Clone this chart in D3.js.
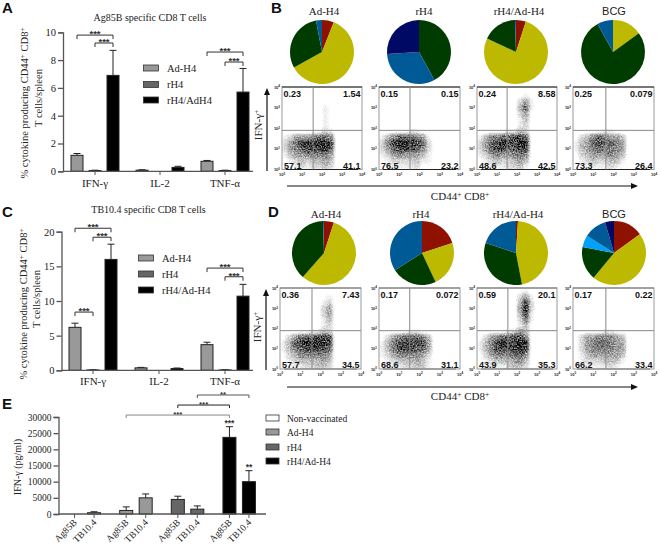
<!DOCTYPE html>
<html><head><meta charset="utf-8">
<script src="https://cdn.jsdelivr.net/npm/d3@7/dist/d3.min.js"></script>
<style>html,body{margin:0;padding:0;background:#fff}svg{display:block}</style>
</head><body>
<svg id="c" width="661" height="545"></svg>
<script>
const SERIF="'Liberation Serif',serif", SANS="'Liberation Sans',sans-serif";
// Panel A
const groupsAC=["IFN-γ","IL-2","TNF-α"];
const seriesA=["Ad-H4","rH4","rH4/AdH4"];
const seriesC=["Ad-H4","rH4","rH4/Ad-H4"];
const valuesA=[[1.15,0.05,6.9],[0.08,0,0.28],[0.72,0.05,5.7]];
const errTopA=[[1.28,0.08,8.7],[0.11,0,0.36],[0.78,0.08,7.4]];
const bracketsA=[[0,0,0,2,9.8],[0,1,0,2,9.23],[2,0,2,2,8.58],[2,1,2,2,7.86]];
// Panel C
const valuesC=[[6.2,0.05,16],[0.35,0,0.25],[3.7,0.05,10.7]];
const errTopC=[[6.8,0.08,18.2],[0.42,0,0.33],[4.05,0.08,12.4]];
const bracketsC=[[0,0,0,2,20.5],[0,1,0,2,19.2],[0,0,0,1,8.4],[2,0,2,2,14.75],[2,1,2,2,13.5]];
// Panel E
const groupsE=["Non-vaccinated","Ad-H4","rH4","rH4/Ad-H4"];
const antigens=["Ag85B","TB10.4"];
const valuesE=[[0,400],[1100,5000],[4500,1500],[23700,10000]];
const errTopE=[[0,700],[2200,6200],[5500,2500],[27000,13400]];
const fillE=["#fff","#999","#666","#000"];
const bracketsE=[[1,0,3,0,30600,"#888"],[2,0,3,0,33700,"#222"],[2,1,3,1,36800,"#555"]];
// Pies
const pieNames=["Ad-H4","rH4","rH4/Ad-H4","BCG"];
const pieCat=["red","yellow","green","blue","navy","sky"];
const pieCol={red:"#8f1200",yellow:"#bdb800",green:"#003c00",blue:"#005a96",navy:"#000a64",sky:"#00a0ff"};
const piesB=[
 [["red",6],["yellow",61],["green",30],["blue",3]],
 [["green",42],["blue",32],["navy",26]],
 [["red",5],["yellow",77],["green",17.5],["blue",0.5]],
 [["yellow",15],["green",77],["blue",8]]];
const piesD=[
 [["red",5],["yellow",56.5],["green",38],["blue",0.5]],
 [["red",20],["yellow",23],["green",23],["blue",34]],
 [["red",1],["yellow",46],["green",33],["blue",20]],
 [["red",15],["yellow",46],["green",17],["sky",6],["blue",11.5],["navy",4.5]]];
// Flow plots: quadrant percentages (UL, UR, LL, LR), gates, and event density (14x14, top row first)
const quadB=[["0.23","1.54","57.1","41.1"],["0.15","0.15","76.5","23.2"],["0.24","8.58","48.6","42.5"],["0.25","0.079","73.3","26.4"]];
const quadD=[["0.36","7.43","57.7","34.5"],["0.17","0.072","68.6","31.1"],["0.59","20.1","43.9","35.3"],["0.17","0.22","66.2","33.4"]];
const gateB=[[36,79],[34,79],[32,79],[42,79]];
const gateD=[[38,78],[33,78],[35,78],[42,78]];
const Z="00000000000000";
const densB=[
[Z,Z,"00000001000000","00000002100000","00000002100000","00000002100000","00000002100000","00000113200000","23555677610000","35789999810000","35678889710000","24556666510000","12343445410000","01232334310000"],
[Z,Z,Z,"00000000100000",Z,Z,Z,"00111221000000","24677765200000","36899987310000","35788876310000","23565554210000","12333342210000","01222231100000"],
[Z,"00000001210000","00000003520000","00000004720000","00000003510000","00000002410000","00000002310000","00111224310000","24667788710000","35789889910000","35788778810000","23565566610000","12343345410000","01222334210000"],
[Z,Z,Z,Z,Z,Z,Z,"00111221000000","13467655410000","24578776510000","24567666510000","13455565410000","12343344210000","01222232100000"]];
const densD=[
[Z,"00000001210000","00000002310000","00000003510000","00000003510000","00000002410000","00000002310000","00011224310000","13577788810000","24789999810000","24678888710000","13466666510000","12344445410000","01223344310000"],
[Z,Z,Z,Z,"00000000100000",Z,Z,"00111221000000","13567776410000","24688888510000","24688877510000","23566665310000","12344454210000","01223344210000"],
["00000001200000","00000003520000","00000004830000","00000005930000","00000004820000","00000003620000","00000002410000","00111235410000","13567788610000","24689889910000","24688889810000","13566677610000","12344456410000","01222344310000"],
[Z,Z,"00000000100000",Z,Z,Z,Z,"00111221100000","13556665410000","13567765510000","13566665510000","12455555410000","12333444210000","01222232100000"]];

const svg=d3.select("#c");
const defs=svg.append("defs");
const flt=defs.append("filter").attr("id","grain").attr("x","0").attr("y","0").attr("width","1").attr("height","1").attr("color-interpolation-filters","sRGB");
flt.append("feGaussianBlur").attr("in","SourceGraphic").attr("stdDeviation",1.6).attr("result","d");
flt.append("feTurbulence").attr("type","fractalNoise").attr("baseFrequency",0.75).attr("numOctaves",2).attr("seed",7).attr("result","n");
flt.append("feColorMatrix").attr("in","n").attr("type","matrix").attr("values","0 0 0 0 0 0 0 0 0 0 0 0 0 0 0 1 0 0 0 0").attr("result","na");
flt.append("feComposite").attr("in","d").attr("in2","na").attr("operator","arithmetic").attr("k1",1.7).attr("k2",0.05).attr("k3",0).attr("k4",-0.06).attr("result","m");
flt.append("feGaussianBlur").attr("in","m").attr("stdDeviation",0.45);

function txt(x,y,s,o={}){
  const t=svg.append("text").attr("x",x).attr("y",y).text(s)
   .attr("font-family",o.f||SERIF).attr("font-size",o.s||10.5).attr("fill",o.c||"#222")
   .attr("text-anchor",o.a||"start").attr("font-weight",o.w||null);
  if(o.r!=null)t.attr("transform",`rotate(${o.r} ${x} ${y})`);
  return t;
}

function barPanel(cfg){
  const g=svg.append("g");
  const x0=d3.scaleBand().domain(d3.range(cfg.groups.length)).range(cfg.xr);
  const x1=d3.scaleBand().domain(d3.range(cfg.series.length)).range(cfg.sub);
  const y=d3.scaleLinear().domain(cfg.yd).range(cfg.yr);
  const cx=(a,b)=>x0(a)+x0.bandwidth()/2+x1(b)+x1.bandwidth()/2;
  const fills=cfg.fills;
  // bars
  cfg.values.forEach((row,i)=>row.forEach((v,j)=>{
    if(v<=0&&cfg.errTop[i][j]<=0)return;
    const c=cx(i,j),w=cfg.bw,top=cfg.errTop[i][j];
    g.append("line").attr("x1",c).attr("x2",c).attr("y1",y(v)).attr("y2",y(top)).attr("stroke","#222").attr("stroke-width",1);
    g.append("line").attr("x1",c-cfg.cap).attr("x2",c+cfg.cap).attr("y1",y(top)).attr("y2",y(top)).attr("stroke","#222").attr("stroke-width",1);
    g.append("rect").attr("x",c-w/2).attr("width",w).attr("y",y(v)).attr("height",Math.max(0,y(0)-y(v)))
      .attr("fill",fills[cfg.fillBy==="group"?i:j]).attr("stroke",v>0?"#222":"none").attr("stroke-width",1);
  }));
  // axes
  const ay=g.append("g").attr("transform",`translate(${cfg.xr[0]+cfg.ax0},0)`)
    .call(d3.axisLeft(y).tickValues(cfg.ticks).tickSize(5).tickPadding(2).tickFormat(d3.format("d")));
  const ax=g.append("g").attr("transform",`translate(0,${cfg.yr[0]})`);
  ax.append("line").attr("x1",cfg.xr[0]+cfg.ax0).attr("x2",cfg.axEnd).attr("stroke","#555").attr("stroke-width",1.3);
  ay.selectAll("path,line").attr("stroke","#555").attr("stroke-width",1.3);
  ay.selectAll("text").attr("font-family",SERIF).attr("font-size",cfg.tickSize||10.5).attr("fill","#222");
  // brackets
  cfg.brackets.forEach(b=>{
    const xa=cx(b[0],b[1]),xb=cx(b[2],b[3]),yy=y(b[4]),col=b[5]||"#333",h=cfg.bh;
    g.append("path").attr("d",`M${xa},${yy+h}V${yy}H${xb}V${yy+h}`).attr("fill","none").attr("stroke",col).attr("stroke-width",1);
  });
  return {x0,x1,y,cx,g};
}
// Panel A
const A=barPanel({groups:groupsAC,series:seriesA,values:valuesA,errTop:errTopA,fills:["#999","#666","#000"],xr:[62.5,257.5],sub:[-27,27],bw:12,cap:3.5,
 yd:[0,10],yr:[171.3,32.3],ticks:d3.range(0,11,2),ax0:0.5,axEnd:253,brackets:bracketsA,bh:4});
bracketsA.forEach(b=>txt((A.cx(b[0],b[1])+A.cx(b[2],b[3]))/2,A.y(b[4])+2,"***",{a:"middle",s:9.5,f:SANS,w:"bold",c:"#333"}));
// Panel C
const C=barPanel({groups:groupsAC,series:seriesC,values:valuesC,errTop:errTopC,fills:["#999","#666","#000"],xr:[60,258],sub:[-27,27],bw:12,cap:3.5,
 yd:[0,20],yr:[370.3,231.7],ticks:d3.range(0,21,5),ax0:1.5,axEnd:253,brackets:bracketsC,bh:4});
bracketsC.forEach(b=>txt((C.cx(b[0],b[1])+C.cx(b[2],b[3]))/2,C.y(b[4])+2,"***",{a:"middle",s:9.5,f:SANS,w:"bold",c:"#333"}));
// Panel E
const E=barPanel({groups:groupsE,series:antigens,values:valuesE,errTop:errTopE,fills:fillE,fillBy:"group",xr:[58.5,265],sub:[-19.5,19.5],bw:13,cap:3.5,
 yd:[0,30000],yr:[514,417],ticks:d3.range(0,30001,5000),ax0:0,axEnd:266,brackets:bracketsE,bh:3,tickSize:9.5});
// x tick labels
groupsAC.forEach((d,i)=>{
  txt(A.x0(i)+A.x0.bandwidth()/2,187,d,{a:"middle",s:11});
  txt(C.x0(i)+C.x0.bandwidth()/2,385,d,{a:"middle",s:11});
  C.g.append("line").attr("x1",C.x0(i)+C.x0.bandwidth()/2).attr("x2",C.x0(i)+C.x0.bandwidth()/2).attr("y1",370.3).attr("y2",374).attr("stroke","#555");
  A.g.append("line").attr("x1",A.x0(i)+A.x0.bandwidth()/2).attr("x2",A.x0(i)+A.x0.bandwidth()/2).attr("y1",171.3).attr("y2",175).attr("stroke","#555");
});
groupsE.forEach((g,i)=>antigens.forEach((a,j)=>{
  const c=E.cx(i,j);
  E.g.append("line").attr("x1",c).attr("x2",c).attr("y1",514).attr("y2",518).attr("stroke","#555");
  txt(c+3,523,a,{a:"end",s:9.5,r:-45});
}));
bracketsE.forEach(b=>txt((E.cx(b[0],b[1])+E.cx(b[2],b[3]))/2,E.y(b[4])+2,b[4]>36000?"**":"***",{a:"middle",s:8,f:SANS,w:"bold",c:"#333"}));
txt(E.cx(3,0),E.y(27000)-1,"***",{a:"middle",s:8.5,f:SANS,w:"bold",c:"#333"});
txt(E.cx(3,1),E.y(13400)-1,"**",{a:"middle",s:8.5,f:SANS,w:"bold",c:"#333"});
// Legends
function legend(items,fills,sx,tx,ys,sw,fs){
  items.forEach((d,i)=>{
    svg.append("rect").attr("x",sx).attr("y",ys[i]-3).attr("width",sw).attr("height",6).attr("fill",fills[i]).attr("stroke","#333").attr("stroke-width",0.8);
    txt(tx,ys[i]+3.5,d,{s:fs});
  });
}
legend(seriesA,["#999","#666","#000"],143.5,167,[68,84.5,100],15,10.5);
legend(seriesC,["#999","#666","#000"],138.5,162,[258,274,290],15,10.5);
legend(groupsE,fillE,266,287,[418,432,447,461],13,9.5);
// Titles
txt(150,21,"Ag85B specific CD8 T cells",{a:"middle",s:10});
txt(148.5,213,"TB10.4 specific CD8 T cells",{a:"middle",s:10});
// Y labels
function ylab(x,y,s){const t=txt(x,y,"% cytokine producing CD44",{a:"middle",s,r:-90});
  t.append("tspan").attr("dy",-3).attr("font-size",s*0.7).text("+");
  t.append("tspan").attr("dy",3).text(" CD8");
  t.append("tspan").attr("dy",-3).attr("font-size",s*0.7).text("+");}
ylab(28,103,10.5); txt(42,98,"T cells/spleen",{a:"middle",s:10.5,r:-90});
ylab(27,304,10.5); txt(40,299,"T cells/spleen",{a:"middle",s:10.5,r:-90});
txt(21,467,"IFN-γ (pg/ml)",{a:"middle",s:10,r:-90});
// Panel letters
[["A",2,13],["B",271,13],["C",2,217],["D",268,217],["E",2,409]].forEach(d=>txt(d[1],d[2],d[0],{f:SANS,w:"bold",s:15,c:"#111"}));
// Pies
const pieGen=d3.pie().sort(null).value(d=>d[1]);
const arc=d3.arc().innerRadius(0).outerRadius(32);
function pies(data,cxs,cy,tx,ty){
  data.forEach((p,i)=>{
    const g=svg.append("g").attr("transform",`translate(${cxs[i]},${cy})`);
    g.selectAll("path").data(pieGen(p)).join("path").attr("d",arc).attr("fill",d=>pieCol[d.data[0]]);
    const n=pieNames[i];
    txt(tx[i],ty,n,{a:"middle",s:11,f:n==="BCG"?SANS:SERIF});
  });
}
pies(piesB,[322,419,516,613],52,[324,424,519,614],15);
pies(piesD,[324,422,516,614],253,[326,421,518,614],218);
// Flow plots
function flow(dens,quad,gate,xs,y0,y1,topCol){
  dens.forEach((rows,k)=>{
    const [xa,xb]=xs[k];
    const g=svg.append("g");
    const x=d3.scaleLog().domain([1,1e4]).range([xa,xb]);
    const y=d3.scaleLog().domain([1,1e4]).range([y1,y0]);
    const cx=d3.scaleBand().domain(d3.range(14)).range([xa,xb]);
    const cy=d3.scaleBand().domain(d3.range(14)).range([y0,y1]);
    const op=d3.scalePow().exponent(1.35).domain([0,9]).range([0,1]);
    const dg=g.append("g").attr("filter","url(#grain)");
    dg.append("rect").attr("x",xa).attr("y",y0).attr("width",xb-xa).attr("height",y1-y0).attr("fill","#000").attr("fill-opacity",0);
    rows.forEach((r,ri)=>[...r].forEach((v,ci)=>{
      if(+v>0)dg.append("rect").attr("x",cx(ci)).attr("y",cy(ri)).attr("width",cx.bandwidth()+0.3).attr("height",cy.bandwidth()+0.3).attr("fill","#000").attr("fill-opacity",op(+v));
    }));
    // frame
    g.append("rect").attr("x",xa).attr("y",y0).attr("width",xb-xa).attr("height",y1-y0).attr("fill","none").attr("stroke","#999").attr("stroke-width",1);
    g.append("line").attr("x1",xa).attr("x2",xb).attr("y1",y0).attr("y2",y0).attr("stroke",topCol).attr("stroke-width",1.2);
    g.append("line").attr("x1",xa+4).attr("x2",xb-4).attr("y1",y1).attr("y2",y1).attr("stroke",topCol).attr("stroke-width",1.2);
    // gates
    g.append("line").attr("x1",x(gate[k][0])).attr("x2",x(gate[k][0])).attr("y1",y0).attr("y2",y1).attr("stroke","#888").attr("stroke-width",1);
    g.append("line").attr("x1",xa).attr("x2",xb).attr("y1",y(gate[k][1])).attr("y2",y(gate[k][1])).attr("stroke","#888").attr("stroke-width",1);
    // tick labels
    d3.range(0,5).forEach(e=>{
      const v=Math.pow(10,e);
      const t=txt(x(v),y1+6.5,"10",{a:"middle",s:4,f:SANS,w:"bold",c:"#222"});t.append("tspan").attr("dy",-1.2).attr("font-size",3).text(e);
      const t2=txt(xa-2,y(v)+1.5,"10",{a:"end",s:4,f:SANS,w:"bold",c:"#222"});t2.append("tspan").attr("dy",-1.2).attr("font-size",3).text(e);
    });
    // numbers
    const q=quad[k],o={s:9,f:SANS,w:"bold",c:"#111"};
    txt(xa+1.5,y0+9.5,q[0],o);
    txt(xb-1.5,y0+9.5,q[1],{...o,a:"end"});
    txt(xa+2,y1-1,q[2],o);
    txt(xb-1.5,y1-1,q[3],{...o,a:"end"});
  });
}
const xsB=[[282,362],[379,460],[477,557],[573,654]];
const xsD=[[280,361],[379,460],[477,557],[573,654]];
flow(densB,quadB,gateB,xsB,87,169.5,"#222");
flow(densD,quadD,gateD,xsD,288,369,"#777");
// Axis arrows
function arrowV(x,y0,y1){
  svg.append("line").attr("x1",x).attr("x2",x).attr("y1",y0).attr("y2",y1+5).attr("stroke","#111").attr("stroke-width",1.2);
  svg.append("path").attr("d",`M${x-3},${y1+7}L${x},${y1}L${x+3},${y1+7}Z`).attr("fill","#111");
}
function arrowH(y,x0,x1){
  svg.append("line").attr("x1",x0).attr("x2",x1-5).attr("y1",y).attr("y2",y).attr("stroke","#111").attr("stroke-width",1.2);
  svg.append("path").attr("d",`M${x1-7},${y-3}L${x1},${y}L${x1-7},${y+3}Z`).attr("fill","#111");
}
arrowV(267,171,88); arrowV(266,370,289);
arrowH(186,287,638); arrowH(387,287,638);
function ifn(x,y){const t=txt(x,y,"IFN-γ",{a:"middle",s:11,r:-90});t.append("tspan").attr("dy",-3).attr("font-size",7.5).text("+");}
ifn(262,125); ifn(261,327);
function cd(y){const t=txt(460,y,"CD44",{a:"middle",s:11});t.append("tspan").attr("dy",-3).attr("font-size",7.5).text("+");t.append("tspan").attr("dy",3).text(" CD8");t.append("tspan").attr("dy",-3).attr("font-size",7.5).text("+");}
cd(200); cd(400);
</script>
</body></html>
